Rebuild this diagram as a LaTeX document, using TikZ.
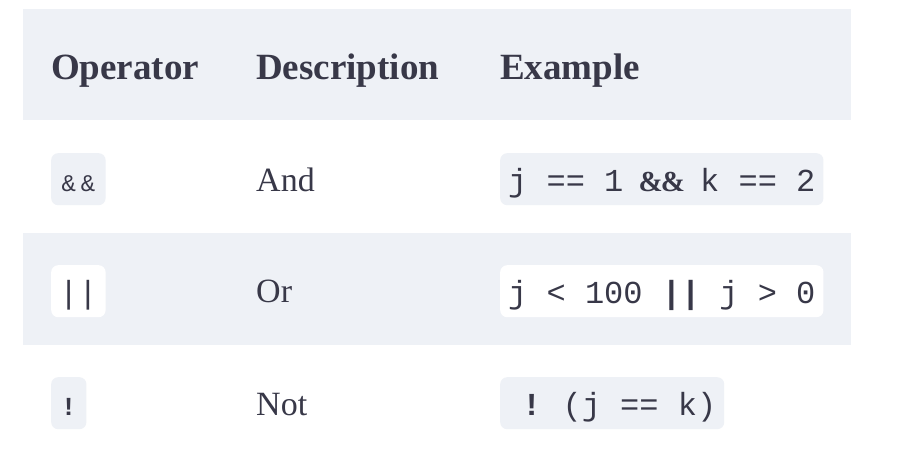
\documentclass[tikz,border=0pt]{standalone}
\usepackage{fontspec}
\setmainfont{Liberation Serif}
\setmonofont{Liberation Mono}
\usetikzlibrary{positioning}

\definecolor{rowgray}{RGB}{238,241,246}
\definecolor{inktext}{RGB}{56,56,72}

\newcommand{\cell}[1]{\makebox[19.2pt]{#1}}

\begin{document}
\begin{tikzpicture}[x=1pt,y=-1pt,
        headtext/.style={anchor=base west, inner sep=0pt, text=inktext, font=\fontsize{37}{40}\selectfont\bfseries},
        celltext/.style={anchor=base west, inner sep=0pt, text=inktext, font=\fontsize{34}{38}\selectfont},
        codebox/.style={anchor=north west, rounded corners=7pt, inner xsep=8pt, inner ysep=10pt,
            text height=28pt, text depth=4pt, minimum height=52pt, text=inktext,
            font=\fontsize{32}{36}\selectfont\ttfamily},
        opbox/.style={codebox, font=\fontsize{24}{28}\selectfont\ttfamily}]
        \useasboundingbox (0,0) rectangle (900,472);
        \fill[white] (0,0) rectangle (900,472);

        % row backgrounds
        \fill[rowgray] (23,9) rectangle (851,120);
        \fill[rowgray] (23,233) rectangle (851,345);

        % header
        \node[headtext] (hop) at (51,79) {Operator};
        \node[headtext] (hdesc) at (256,79) {Description};
        \node[headtext] (hex) at (500,79) {Example};

        % and
        \node[opbox, fill=rowgray] (opand) at (51,153) {\cell{\&}\cell{\&}};
        \node[celltext] (dand) at (256,191) {And};
        \node[codebox, fill=rowgray] (exand) at (500,153)
            {j == 1 \makebox[38.4pt]{\fontsize{29}{29}\selectfont\rmfamily\bfseries\&\kern-2pt\&} k == 2};

        % or
        \node[opbox, fill=white] (opor) at (51,265)
            {\fontsize{32}{36}\selectfont\cell{|}\cell{|}};
        \node[celltext] (dor) at (256,302) {Or};
        \node[codebox, fill=white] (exor) at (500,265)
            {j < 100 \textbf{||} j > 0};

        % not
        \node[opbox, fill=rowgray] (opnot) at (51,377)
            {\cell{\fontsize{26}{28}\selectfont\bfseries !}};
        \node[celltext] (dnot) at (256,415) {Not};
        \node[codebox, fill=rowgray] (exnot) at (500,377)
            {\makebox[54.4pt][l]{\hspace{14pt}\textbf{!}}(j == k)};
    \end{tikzpicture}
\end{document}
